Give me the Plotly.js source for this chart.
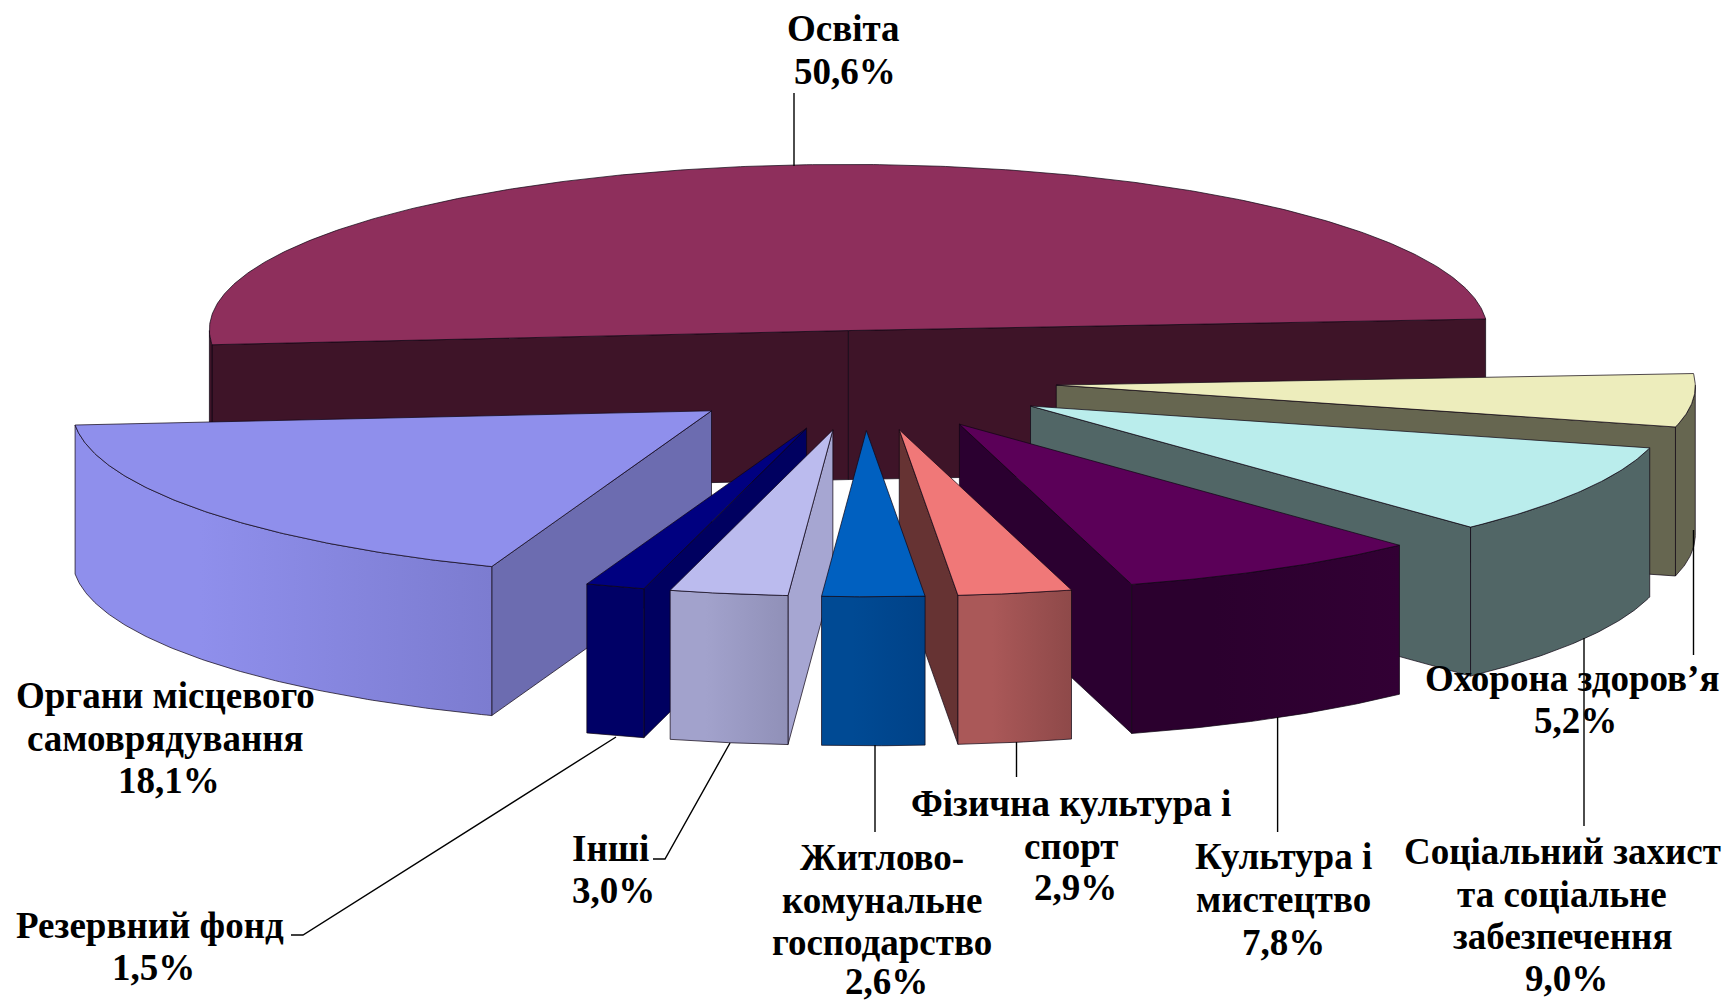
<!DOCTYPE html>
<html>
<head>
<meta charset="utf-8">
<script src="https://cdn.plot.ly/plotly-3.0.1.min.js"></script>
<style>html,body{margin:0;padding:0;background:#fff}#c{width:1727px;height:1002px}</style>
</head>
<body>
<div id="c"></div>
<script>
const categories = ['Освіта','Охорона здоров’я','Соціальний захист та соціальне забезпечення','Культура і мистецтво','Фізична культура і спорт','Житлово-комунальне господарство','Інші','Резервний фонд','Органи місцевого самоврядування'];
const values = [50.6,5.2,9.0,7.8,2.9,2.6,3.0,1.5,18.1];
const labelLines = [['Освіта'],['Охорона здоров’я'],['Соціальний захист','та соціальне','забезпечення'],['Культура і','мистецтво'],['Фізична культура і','спорт'],['Житлово-','комунальне','господарство'],['Інші'],['Резервний фонд'],['Органи місцевого','самоврядування']];

const topColors  = ['#8E2F5C','#EDEDBC','#BAEDEC','#5B0058','#F07878','#0060C0','#BBBBEE','#000080','#8F8FEC'];
const wallColors = ['#3E1428','#666650','#516666','#2B0030','#663333','#004890','#A6A6D2','#000060','#6C6CB0'];
const outerLeft  = ['#3E1428','#666650','#516666','#2B002E','#AA5858','#004A94','#A2A2CC','#000066','#8F8FEC'];
const outerRight = ['#3E1428','#666650','#516666','#320034','#8E4949','#004288','#9090B8','#000066','#7C7CD0'];

// Projection of the pie (pixels on the hidden axes)
const CX = 864.3, CY = 380.5, R = 639, K = 0.26, DEPTH = 149, EXPLODE = 192.7, FIRST_END = 86;
const SHEAR_OUTER = 0.005, SHEAR_APEX = 0.005;
const rad = d => d * Math.PI / 180;
const dirX = (t, s) => Math.sin(rad(t)) - s * Math.cos(rad(t));
const dirY = t => -Math.cos(rad(t)) * K;

// Angular spans from the values
const share = values.map(v => v * 3.6);
const total = share.reduce((a, b) => a + b, 0);
const spans = [];
let cursor = FIRST_END - share[0] * 360 / total;
share.forEach(s => { const a = cursor, b = cursor + s * 360 / total; spans.push([a, b]); cursor = b; });

const OUTLINE = 'rgba(15,5,20,0.8)';
function poly(xs, ys, fill, gradient) {
  const t = {type:'scatter', mode:'lines', x:[...xs, xs[0]], y:[...ys, ys[0]], fill:'toself',
    line:{color:OUTLINE, width:0.9}, hoverinfo:'skip', showlegend:false};
  if (gradient) t.fillgradient = {type:'horizontal', colorscale:[[0, gradient[0]], [0.3, gradient[0]], [1, gradient[1]]]};
  else t.fillcolor = fill;
  return t;
}
function arc(ax, ay, a, b) {
  const pts = []; const n = Math.max(2, Math.ceil((b - a) / 0.5));
  for (let i = 0; i <= n; i++) { const t = a + (b - a) * i / n; pts.push([ax + R * dirX(t, SHEAR_OUTER), ay + R * dirY(t)]); }
  return pts;
}
function slice(i) {
  const [a, b] = spans[i], m = (a + b) / 2, out = [];
  const ax = CX + EXPLODE * dirX(m, SHEAR_APEX), ay = CY + EXPLODE * dirY(m);
  const radial = t => {
    const ox = ax + R * dirX(t, SHEAR_OUTER), oy = ay + R * dirY(t);
    return poly([ax, ox, ox, ax], [ay, oy, oy + DEPTH, ay + DEPTH], wallColors[i]);
  };
  if (Math.sin(rad(a)) < 0) out.push(radial(a));
  if (Math.sin(rad(b)) > 0) out.push(radial(b));
  [[90, 270], [-270, -90]].forEach(([lo, hi]) => {
    const s = Math.max(a, lo), e = Math.min(b, hi);
    if (e > s) {
      const p = arc(ax, ay, s, e);
      const xs = p.map(q => q[0]), ys = p.map(q => q[1]);
      const xb = xs.slice().reverse(), yb = ys.map(y => y + DEPTH).reverse();
      out.push(poly(xs.concat(xb), ys.concat(yb), null, [outerLeft[i], outerRight[i]]));
    }
  });
  const p = arc(ax, ay, a, b);
  out.push(poly([ax, ...p.map(q => q[0])], [ay, ...p.map(q => q[1])], topColors[i]));
  return out;
}
const drawOrder = [0, 1, 2, 3, 8, 7, 6, 4, 5];
const traces = [];
drawOrder.forEach(i => traces.push(...slice(i)));

// Leader lines
const leaders = [
  [[794, 794], [93, 166]],
  [[1693.5, 1693.5], [530, 655]],
  [[1584, 1584], [638, 826]],
  [[1277.6, 1277.6], [717, 832]],
  [[1016.5, 1016.5], [742, 777]],
  [[875, 875], [745, 832]],
  [[730, 665, 653], [743, 859, 859]],
  [[616, 303, 291], [737, 935, 935]]
];
leaders.forEach(([x, y]) => traces.push({type:'scatter', mode:'lines', x, y, line:{color:'#000', width:1.4}, hoverinfo:'skip', showlegend:false}));

// Text placement: centre x of the block, centre y of each line (last line = percentage)
const labelX = [843, 1572, 1562, 1283, 1071, 882, 610, 150, 165];
const labelY = [[28, 71], [678, 720], [851, 894, 936, 978], [856, 899, 942], [803, 846, 887], [857, 900, 942, 981], [848, 890], [925, 967], [695, 738, 780]];
const percentDx = [2, 3, 4, 0, 4, 4, 3, 3, 4];
const annotations = [];
categories.forEach((c, i) => {
  const lines = labelLines[i].concat([values[i].toFixed(1).replace('.', ',') + '%']);
  lines.forEach((text, j) => annotations.push({
    text, x: labelX[i] + (j === lines.length - 1 ? percentDx[i] : 0), y: labelY[i][j], xref:'x', yref:'y',
    xanchor:'center', yanchor:'middle', showarrow:false,
    font:{family:'"Liberation Serif", serif', size:37, color:'#000', weight:700}
  }));
});

const layout = {
  width:1727, height:1002, margin:{l:0, r:0, t:0, b:0}, paper_bgcolor:'#fff', plot_bgcolor:'#fff', showlegend:false,
  xaxis:{range:[0, 1727], visible:false, fixedrange:true},
  yaxis:{range:[1002, 0], visible:false, fixedrange:true},
  annotations
};
Plotly.newPlot('c', traces, layout, {displayModeBar:false, staticPlot:true});
</script>
</body>
</html>
